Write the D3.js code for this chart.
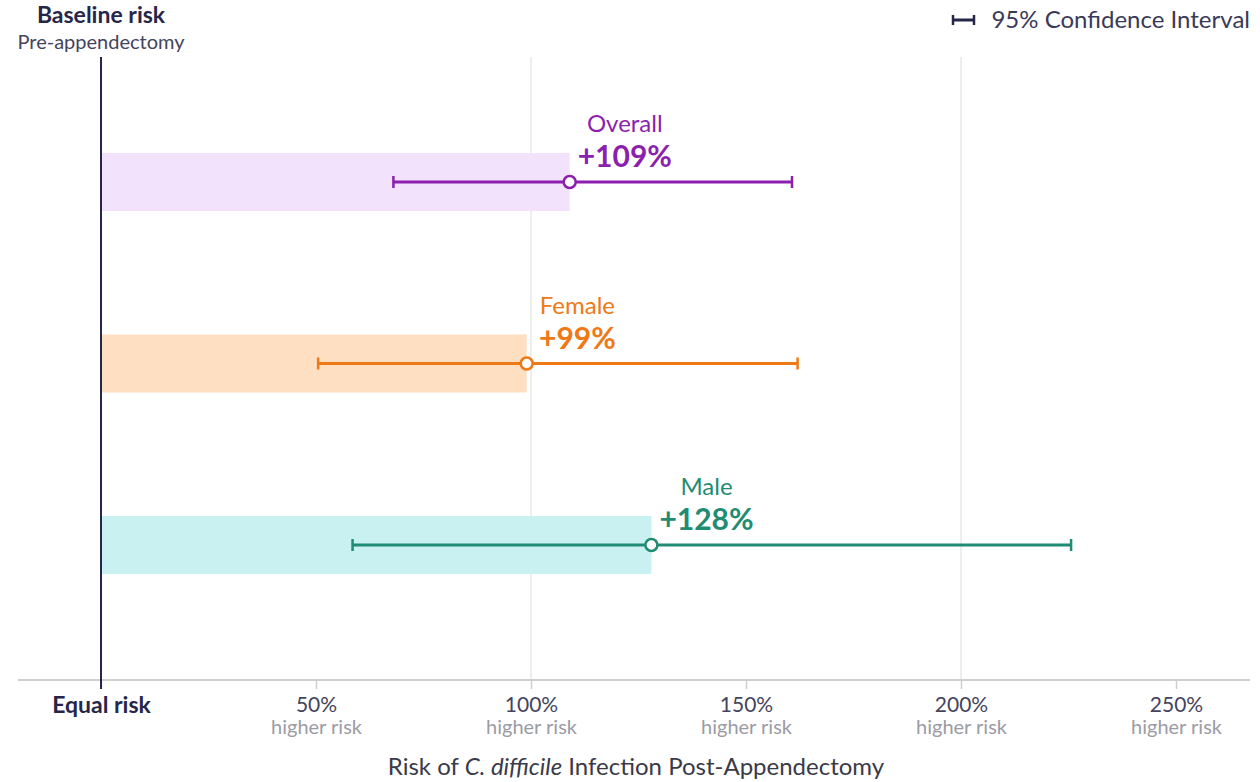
<!DOCTYPE html>
<html><head>
<meta charset="utf-8">
<script src="https://d3js.org/d3.v7.min.js"></script>
<style>
  body { margin: 0; background: #fff; }
  svg text { font-family: Lato, "Open Sans", sans-serif; }
  .gridline { stroke: #dcdcdc; stroke-width: 1; }
</style>
</head>
<body>
<svg id="chart" width="1260" height="782"></svg>
<script>
// data
let groups   = ["Overall", "Female", "Male"];
let estimate = [1.09, 0.99, 1.28];
let ciLow    = [0.68, 0.505, 0.585];
let ciHigh   = [1.607, 1.62, 2.256];
let lineColors = ["#8c1fae", "#ee7915", "#1f8c73"];
let barColors  = ["#f3e2fb", "#ffdfc1", "#c9f1f1"];
let tickValues = [0, 0.5, 1, 1.5, 2, 2.5];
let gridValues = [1, 2];

let svg = d3.select("svg#chart");
let dark = "#26264a";

// scales
let x = d3.scaleLinear().domain([0, 2.5]).range([101, 1176]);
let y = d3.scalePoint().domain(groups).range([182, 545]);
let axisY = 680, topY = 57, barH = 58;

// gridlines
svg.append("g").selectAll("line").data(gridValues).join("line")
  .attr("class", "gridline")
  .attr("x1", d => x(d)).attr("x2", d => x(d))
  .attr("y1", topY).attr("y2", axisY);

// x axis (baseline + ticks, labels drawn by hand below)
let xAxis = d3.axisBottom(x).tickValues(tickValues).tickSize(9).tickFormat("");
let axisG = svg.append("g").attr("transform", "translate(0," + axisY + ")").call(xAxis)
  .attr("font-family", null);
axisG.select(".domain").remove();
axisG.selectAll(".tick line").attr("stroke", "#cfcfcf").attr("stroke-width", 1.5);
axisG.append("line").attr("x1", 18).attr("x2", 1250).attr("y1", 0).attr("y2", 0)
  .attr("stroke", "#cfcfcf").attr("stroke-width", 2);

// tick labels
axisG.selectAll(".tick").each(function(d) {
  let t = d3.select(this);
  if (d === 0) {
    t.append("text").attr("y", 33).attr("text-anchor", "middle")
      .attr("fill", dark).attr("font-size", 23).attr("font-weight", 700)
      .text("Equal risk");
  } else {
    t.append("text").attr("y", 32).attr("text-anchor", "middle")
      .attr("fill", "#44445e").attr("font-size", 21)
      .text(d3.format(".0%")(d));
    t.append("text").attr("y", 54).attr("text-anchor", "middle")
      .attr("fill", "#9b9ba5").attr("font-size", 20)
      .text("higher risk");
  }
});

// bars
let rows = groups.map((g, i) => ({ g, v: estimate[i], lo: ciLow[i], hi: ciHigh[i], c: lineColors[i], b: barColors[i] }));

svg.append("g").selectAll("rect").data(rows).join("rect")
  .attr("x", x(0))
  .attr("y", d => y(d.g) - barH / 2)
  .attr("width", d => x(d.v) - x(0))
  .attr("height", barH)
  .attr("fill", d => d.b);

// zero line
svg.append("line").attr("x1", x(0)).attr("x2", x(0)).attr("y1", topY).attr("y2", axisY + 9)
  .attr("stroke", dark).attr("stroke-width", 2);

// confidence intervals
let ci = svg.append("g").selectAll("g").data(rows).join("g");
ci.append("line")
  .attr("x1", d => x(d.lo)).attr("x2", d => x(d.hi))
  .attr("y1", d => y(d.g)).attr("y2", d => y(d.g))
  .attr("stroke", d => d.c).attr("stroke-width", 3);
ci.selectAll(".cap").data(d => [d.lo, d.hi].map(v => ({ v, d }))).join("line")
  .attr("class", "cap")
  .attr("x1", e => x(e.v)).attr("x2", e => x(e.v))
  .attr("y1", e => y(e.d.g) - 6).attr("y2", e => y(e.d.g) + 6)
  .attr("stroke", e => e.d.c).attr("stroke-width", 2.5);
ci.append("circle")
  .attr("cx", d => x(d.v)).attr("cy", d => y(d.g)).attr("r", 6)
  .attr("fill", "#fff").attr("stroke", d => d.c).attr("stroke-width", 2.5);

// value + group labels; nudge label right if it would sit on a gridline
ci.each(function(d) {
  let g = d3.select(this);
  let lx = x(d.v) + 8;
  gridValues.forEach(gv => {
    let gx = x(gv);
    if (gx >= x(d.v) && gx <= lx + 2) lx = gx + 8;
  });
  let val = g.append("text")
    .attr("x", lx).attr("y", y(d.g) - 15)
    .attr("fill", d.c).attr("font-size", 30).attr("font-weight", 700)
    .text("+" + Math.round(d.v * 100) + "%");
  let w = val.node().getComputedTextLength();
  g.append("text")
    .attr("x", lx + w / 2).attr("y", y(d.g) - 50)
    .attr("text-anchor", "middle")
    .attr("fill", d.c).attr("font-size", 24)
    .text(d.g);
});

// header labels
svg.append("text").attr("x", x(0)).attr("y", 23).attr("text-anchor", "middle")
  .attr("fill", dark).attr("font-size", 23).attr("font-weight", 700).text("Baseline risk");
svg.append("text").attr("x", x(0)).attr("y", 49).attr("text-anchor", "middle")
  .attr("fill", "#44445e").attr("font-size", 20).text("Pre-appendectomy");

// legend
let leg = svg.append("g");
leg.append("line").attr("x1", 953).attr("x2", 974).attr("y1", 20).attr("y2", 20)
  .attr("stroke", dark).attr("stroke-width", 3);
[953, 974].forEach(cx => leg.append("line").attr("x1", cx).attr("x2", cx).attr("y1", 15).attr("y2", 25)
  .attr("stroke", dark).attr("stroke-width", 2.5));
leg.append("text").attr("x", 1250).attr("y", 28).attr("text-anchor", "end")
  .attr("fill", "#3a3a58").attr("font-size", 24).text("95% Confidence Interval");

// axis title
let title = svg.append("text").attr("x", 636).attr("y", 775).attr("text-anchor", "middle")
  .attr("fill", "#3a3a48").attr("font-size", 24);
title.append("tspan").text("Risk of ");
title.append("tspan").attr("font-style", "italic").text("C. difficile");
title.append("tspan").text(" Infection Post-Appendectomy");
</script>
</body>
</html>
